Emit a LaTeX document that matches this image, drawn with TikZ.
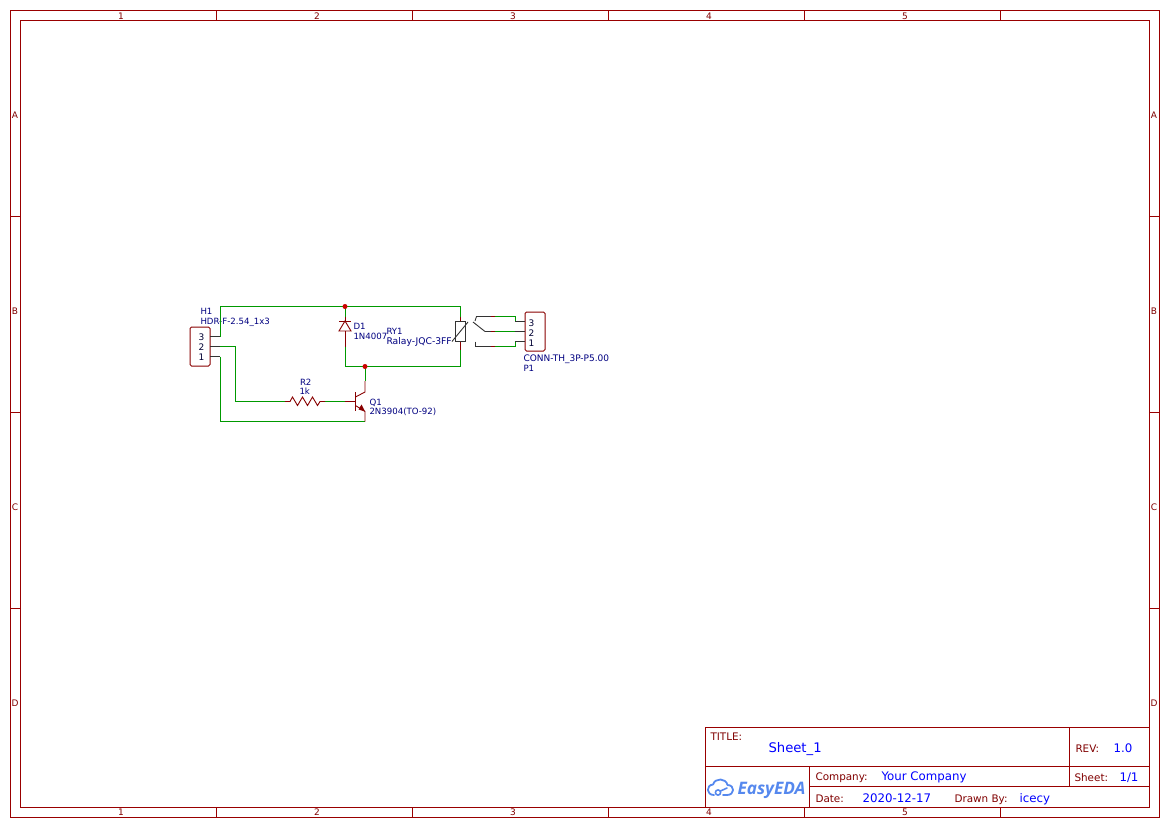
\documentclass[tikz,border=0pt]{standalone}
\usepackage{fontspec}
\setmainfont{DejaVu Sans}
\newfontfamily\logofont{Open Sans}
\usetikzlibrary{positioning}

\begin{document}
\begin{tikzpicture}[x=1pt,y=-1pt,line width=1pt]
	
	\definecolor{frameRed}{HTML}{990000}
	\definecolor{textRed}{HTML}{800000}
	\definecolor{partRed}{HTML}{880000}
	\definecolor{wireGreen}{HTML}{009900}
	\definecolor{partBlue}{HTML}{000080}
	\definecolor{logoBlue}{HTML}{5588EE}
	
	\tikzset{%
		frame/.style    = {draw=frameRed, line width=0.9pt},
		wire/.style     = {draw=wireGreen, line width=0.9pt},
		part/.style     = {draw=partRed, line width=0.9pt},
		pinline/.style  = {draw=black!80, line width=0.9pt},
		junction/.style = {circle, fill=red!80!black, inner sep=0, minimum size=5pt},
		header/.style   = {draw=partRed, rounded corners=1.5pt, minimum width=20pt, minimum height=39pt, inner sep=0},
		ticklabel/.style = {text=textRed, inner sep=0, anchor=base, font=\fontsize{9}{10}\selectfont},
		pinlabel/.style = {text=black!80!blue, inner sep=0, anchor=base, font=\fontsize{9}{10}\selectfont},
		partlabel/.style = {text=partBlue, inner sep=0, anchor=base west, font=\fontsize{8.6}{10}\selectfont},
		sheetkey/.style = {text=textRed, inner sep=0, anchor=base west, font=\fontsize{10.4}{11}\selectfont},
		sheetval/.style = {text=blue, inner sep=0, anchor=base west, font=\fontsize{11.8}{13}\selectfont}
	}
	
	\useasboundingbox (0,0) rectangle (1169,827);
	
	% Rahmen
	\draw[frame] (10.5,10.5) rectangle (1159.5,817.5);
	\draw[frame] (20.5,20.5) rectangle (1149.5,807.5);
	\draw[frame] (216,10.5) -- (216,20.5) (412,10.5) -- (412,20.5) (608,10.5) -- (608,20.5) (804,10.5) -- (804,20.5) (1000,10.5) -- (1000,20.5);
	\draw[frame] (216,807.5) -- (216,817.5) (412,807.5) -- (412,817.5) (608,807.5) -- (608,817.5) (804,807.5) -- (804,817.5) (1000,807.5) -- (1000,817.5);
	\draw[frame] (10.5,216.5) -- (20.5,216.5) (10.5,412.5) -- (20.5,412.5) (10.5,608.5) -- (20.5,608.5);
	\draw[frame] (1149.5,216.5) -- (1159.5,216.5) (1149.5,412.5) -- (1159.5,412.5) (1149.5,608.5) -- (1159.5,608.5);
	
	\node[ticklabel] (top1) at (121,19) {1};
	\node[ticklabel] (top2) at (317,19) {2};
	\node[ticklabel] (top3) at (513,19) {3};
	\node[ticklabel] (top4) at (709,19) {4};
	\node[ticklabel] (top5) at (905,19) {5};
	\node[ticklabel] (bot1) at (121,815.5) {1};
	\node[ticklabel] (bot2) at (317,815.5) {2};
	\node[ticklabel] (bot3) at (513,815.5) {3};
	\node[ticklabel] (bot4) at (709,815.5) {4};
	\node[ticklabel] (bot5) at (905,815.5) {5};
	\node[ticklabel] (leftA) at (15,118) {A};
	\node[ticklabel] (leftB) at (15,314) {B};
	\node[ticklabel] (leftC) at (15,510) {C};
	\node[ticklabel] (leftD) at (15,706) {D};
	\node[ticklabel] (rightA) at (1154,118) {A};
	\node[ticklabel] (rightB) at (1154,314) {B};
	\node[ticklabel] (rightC) at (1154,510) {C};
	\node[ticklabel] (rightD) at (1154,706) {D};
	
	% Schriftfeld
	\draw[frame] (705,727.5) rectangle (1149.5,807.5);
	\draw[frame] (705,766.5) -- (1149.5,766.5);
	\draw[frame] (809.5,786.5) -- (1149.5,786.5);
	\draw[frame] (1069.5,727.5) -- (1069.5,786.5);
	\draw[frame] (809.5,766.5) -- (809.5,807.5);
	
	\node[sheetkey] (titlekey) at (710,740) {TITLE:};
	\node[sheetval, font=\fontsize{13.2}{15}\selectfont] (title) at (768,752.5) {Sheet\_1};
	\node[sheetkey] (revkey) at (1075,752.7) {REV:};
	\node[sheetval] (rev) at (1113,752.7) {1.0};
	\node[sheetkey] (companykey) at (815,780) {Company:};
	\node[sheetval] (company) at (881,780) {Your Company};
	\node[sheetkey] (sheetkey) at (1074,781.7) {Sheet:};
	\node[sheetval] (sheetno) at (1119,781.7) {1/1};
	\node[sheetkey] (datekey) at (815,802.3) {Date:};
	\node[sheetval] (date) at (862,802.3) {2020-12-17};
	\node[sheetkey] (drawnkey) at (954,802.3) {Drawn By:};
	\node[sheetval] (drawn) at (1019,802.3) {icecy};
	
	% Logo
	\draw[logoBlue, line width=1.8pt, line cap=round, line join=round] (714,795) .. controls (706,795) and (706,785) .. (713,784.5) .. controls (715,777.5) and (726,778) .. (727.5,785) .. controls (735,785) and (735,795) .. (727,795) -- (723,795);
	\draw[logoBlue, line width=1.6pt] (718,792.5) circle (2.6pt);
	\draw[logoBlue, line width=1.6pt, line cap=round] (720.5,791) -- (727,788);
	\node[text=logoBlue, inner sep=0, anchor=base west, font=\logofont\fontsize{17.2}{18}\bfseries\itshape\selectfont] (logo) at (737,794.7) {EasyEDA};
	
	% Bauteile
	\node[header] (h1) at (200,346.5) {};
	\node[header] (p1) at (535,331.5) {};
	\node[pinlabel] (h1three) at (201.5,340) {3};
	\node[pinlabel] (h1two) at (201.5,350) {2};
	\node[pinlabel] (h1one) at (201.5,360) {1};
	\node[pinlabel] (p1three) at (531.5,326) {3};
	\node[pinlabel] (p1two) at (531.5,336) {2};
	\node[pinlabel] (p1one) at (531.5,346) {1};
	
	\node[partlabel] (h1name) at (200,314.5) {H1};
	\node[partlabel] (h1type) at (200,324.3) {HDR-F-2.54\_1x3};
	\node[partlabel] (d1name) at (353,329.7) {D1};
	\node[partlabel] (d1type) at (353,339.5) {1N4007};
	\node[partlabel] (ry1name) at (386,334.5) {RY1};
	\node[partlabel, font=\fontsize{9.2}{10}\selectfont] (ry1type) at (386,344.5) {Ralay-JQC-3FF};
	\node[partlabel] (r2name) at (299.5,385) {R2};
	\node[partlabel] (r2type) at (299,394.5) {1k};
	\node[partlabel] (q1name) at (369,405) {Q1};
	\node[partlabel] (q1type) at (369,414.5) {2N3904(TO-92)};
	\node[partlabel, font=\fontsize{9}{10}\selectfont] (p1type) at (523,361.7) {CONN-TH\_3P-P5.00};
	\node[partlabel] (p1name) at (523,371) {P1};
	
	% Punkte
	\coordinate (h1p3) at (210,336.5);
	\coordinate (h1p2) at (210,346.5);
	\coordinate (h1p1) at (210,356.5);
	\coordinate (w3) at (220,336.5);
	\coordinate (w2) at (220,346.5);
	\coordinate (w1) at (220,356.5);
	\coordinate (topleft) at (220,306.5);
	\coordinate (topright) at (460.5,306.5);
	\coordinate (botright) at (460.5,366.5);
	\coordinate (diodetop) at (345,306.5);
	\coordinate (diodea) at (345,317);
	\coordinate (cathode) at (345,321);
	\coordinate (anode) at (345,331);
	\coordinate (diodeb) at (345,347);
	\coordinate (diodebot) at (345,366.5);
	\coordinate (collector) at (365,366.5);
	\coordinate (colstub) at (365,381);
	\coordinate (colknee) at (365,392);
	\coordinate (colbar) at (355.5,397);
	\coordinate (emitbar) at (355.5,405.5);
	\coordinate (emitter) at (365,411.5);
	\coordinate (emitbot) at (365,421.5);
	\coordinate (groundleft) at (220,421.5);
	\coordinate (basebar) at (355.5,401.5);
	\coordinate (baselead) at (345,401.5);
	\coordinate (rright) at (325,401.5);
	\coordinate (rleft) at (285,401.5);
	\coordinate (r2knee) at (235,401.5);
	\coordinate (w2knee) at (235,346.5);
	\coordinate (coiltop) at (460.5,321);
	\coordinate (coilbot) at (460.5,341.5);
	\coordinate (coilstubtop) at (460.5,317);
	\coordinate (coilstubbot) at (460.5,350);
	\coordinate (p1p3) at (525,321.5);
	\coordinate (p1p2) at (525,331.5);
	\coordinate (p1p1) at (525,341.5);
	\coordinate (p3in) at (515,321.5);
	\coordinate (p2in) at (515,331.5);
	\coordinate (p1in) at (515,341.5);
	\coordinate (p3up) at (515,316.5);
	\coordinate (p1down) at (515,346.5);
	\coordinate (nomid) at (495,316.5);
	\coordinate (commid) at (495,331.5);
	\coordinate (ncmid) at (495,346.5);
	
	% Leitungen
	\draw[pinline] (h1p3) -- (w3);
	\draw[pinline] (h1p2) -- (w2);
	\draw[pinline] (h1p1) -- (w1);
	\draw[wire] (w3) -- (topleft) -- (topright) -- (coilstubtop);
	\draw[wire] (w2) -- (w2knee) -- (r2knee) -- (rleft);
	\draw[wire] (w1) -- (groundleft) -- (emitbot);
	\draw[wire] (diodetop) -- (diodea);
	\draw[wire] (diodeb) -- (diodebot) -- (botright) -- (coilstubbot);
	\draw[wire] (collector) -- (colstub);
	\draw[wire] (rright) -- (baselead);
	\draw[wire] (nomid) -- (p3up) -- (p3in);
	\draw[wire] (commid) -- (p2in);
	\draw[wire] (ncmid) -- (p1down) -- (p1in);
	\draw[pinline] (p3in) -- (p1p3);
	\draw[pinline] (p2in) -- (p1p2);
	\draw[pinline] (p1in) -- (p1p1);
	
	\node[junction] (jtop) at (diodetop) {};
	\node[junction] (jcol) at (collector) {};
	
	% Diode
	\draw[part] (diodea) -- (cathode);
	\draw[part] (anode) -- (diodeb);
	\draw[part] (339,321) -- (351,321);
	\draw[part] (cathode) -- (339,331) -- (351,331) -- cycle;
	
	% Widerstand
	\draw[part] (rleft) -- (290,401.5) -- (292.5,397) -- (297.5,405.5) -- (302.5,397) -- (307.5,405.5) -- (312.5,397) -- (317.5,405.5) -- (320,401.5) -- (rright);
	
	% Transistor
	\draw[part] (baselead) -- (basebar);
	\draw[part] (355.5,392) -- (355.5,411);
	\draw[part] (colstub) -- (colknee) -- (colbar);
	\draw[part] (emitbar) -- (emitter) -- (emitbot);
	\fill[partRed] (emitter) -- (358.5,409.5) -- (361.5,404.5) -- cycle;
	
	% Relais
	\draw[part] (coilstubtop) -- (coiltop);
	\draw[part] (coilbot) -- (coilstubbot);
	\draw[pinline] (455.5,321) rectangle (465.5,341.5);
	\draw[pinline] (452,341.5) -- (468,322);
	\draw[pinline] (475,321) -- (476.5,316.5) -- (491,316.5);
	\draw[part] (491,316.5) -- (nomid);
	\draw[pinline] (473,322) -- (485,331.5) -- (491,331.5);
	\draw[part] (491,331.5) -- (commid);
	\draw[pinline] (475,341.5) -- (475,346.5) -- (491,346.5);
	\draw[part] (491,346.5) -- (ncmid);
	
\end{tikzpicture}
\end{document}
